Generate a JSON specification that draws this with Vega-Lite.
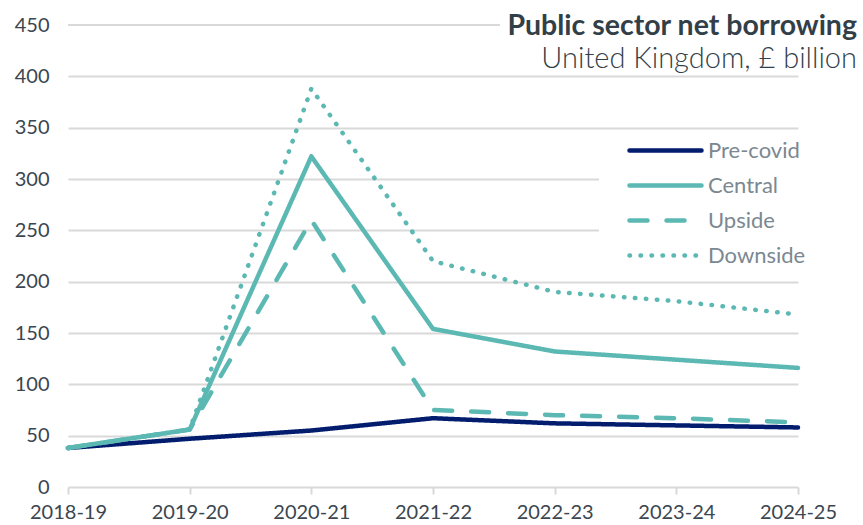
{
  "$schema": "https://vega.github.io/schema/vega-lite/v6.json",
  "width": 730,
  "height": 462,
  "autosize": "none",
  "padding": {"left": 68, "top": 25, "right": 65, "bottom": 38},
  "background": "white",
  "config": {
    "view": {"stroke": null},
    "font": "Lato",
    "axis": {"labelFont": "Lato", "labelColor": "#3b4650", "labelFontSize": 20, "title": null}
  },
  "title": {
    "text": "Public sector net borrowing",
    "subtitle": "United Kingdom, £ billion",
    "anchor": "end",
    "frame": "group",
    "orient": "top",
    "offset": -59,
    "dx": 59,
    "font": "Lato",
    "fontSize": 28.5,
    "fontWeight": "bold",
    "color": "#333f48",
    "subtitleFont": "Lato",
    "subtitleFontSize": 29,
    "subtitleFontWeight": 300,
    "subtitleColor": "#333f48",
    "subtitlePadding": 5
  },
  "datasets": {
    "psnb": [
      {"year": "2018-19", "series": "Pre-covid", "value": 38},
      {"year": "2019-20", "series": "Pre-covid", "value": 47},
      {"year": "2020-21", "series": "Pre-covid", "value": 55},
      {"year": "2021-22", "series": "Pre-covid", "value": 67},
      {"year": "2022-23", "series": "Pre-covid", "value": 62},
      {"year": "2023-24", "series": "Pre-covid", "value": 60},
      {"year": "2024-25", "series": "Pre-covid", "value": 58},
      {"year": "2018-19", "series": "Central", "value": 38},
      {"year": "2019-20", "series": "Central", "value": 56},
      {"year": "2020-21", "series": "Central", "value": 322},
      {"year": "2021-22", "series": "Central", "value": 154},
      {"year": "2022-23", "series": "Central", "value": 132},
      {"year": "2023-24", "series": "Central", "value": 124},
      {"year": "2024-25", "series": "Central", "value": 116},
      {"year": "2018-19", "series": "Upside", "value": 38},
      {"year": "2019-20", "series": "Upside", "value": 56},
      {"year": "2020-21", "series": "Upside", "value": 260},
      {"year": "2021-22", "series": "Upside", "value": 75},
      {"year": "2022-23", "series": "Upside", "value": 70},
      {"year": "2023-24", "series": "Upside", "value": 67},
      {"year": "2024-25", "series": "Upside", "value": 63},
      {"year": "2018-19", "series": "Downside", "value": 38},
      {"year": "2019-20", "series": "Downside", "value": 56},
      {"year": "2020-21", "series": "Downside", "value": 388},
      {"year": "2021-22", "series": "Downside", "value": 220},
      {"year": "2022-23", "series": "Downside", "value": 190},
      {"year": "2023-24", "series": "Downside", "value": 181},
      {"year": "2024-25", "series": "Downside", "value": 168}
    ],
    "topgrid": [
      {"from": "2018-19", "to": "2021-22", "level": 450}
    ]
  },
  "layer": [
    {
      "data": {"name": "topgrid"},
      "mark": {"type": "rule", "color": "#d9d9d9", "strokeWidth": 2, "x2Offset": 67},
      "encoding": {
        "x": {"field": "from", "type": "ordinal",
              "scale": {"type": "point", "padding": 0, "domain": ["2018-19","2019-20","2020-21","2021-22","2022-23","2023-24","2024-25"]},
              "axis": {
                "labelAngle": 0, "labelAlign": "center", "labelBaseline": "top", "domain": false, "grid": false,
                "ticks": true, "tickColor": "#d9d9d9", "tickWidth": 2, "tickSize": 7,
                "labelPadding": 8, "labelFlush": false, "labelOverlap": false
              }},
        "x2": {"field": "to"},
        "y": {"field": "level", "type": "quantitative", "scale": {"domain": [0, 450], "nice": false}}
      }
    },
    {
      "data": {"name": "psnb"},
      "mark": {"type": "line", "strokeWidth": 4.5, "strokeCap": "round", "strokeJoin": "round"},
      "encoding": {
        "x": {
          "field": "year", "type": "ordinal",
          "scale": {"type": "point", "padding": 0, "domain": ["2018-19","2019-20","2020-21","2021-22","2022-23","2023-24","2024-25"]},
          "axis": {
            "labelAngle": 0, "labelAlign": "center", "labelBaseline": "top", "domain": false, "grid": false,
            "ticks": true, "tickColor": "#d9d9d9", "tickWidth": 2, "tickSize": 7,
            "labelPadding": 8, "labelFlush": false, "labelOverlap": false
          }
        },
        "y": {
          "field": "value", "type": "quantitative",
          "scale": {"domain": [0, 450], "nice": false},
          "axis": {
            "values": [0, 50, 100, 150, 200, 250, 300, 350, 400, 450],
            "domain": false, "ticks": false, "labelPadding": 19,
            "grid": true, "gridColor": "#d9d9d9", "gridWidth": 2,
            "gridOpacity": {"condition": {"test": "datum.value >= 450", "value": 0}, "value": 1}
          }
        },
        "color": {
          "field": "series", "type": "nominal",
          "scale": {"domain": ["Pre-covid", "Central", "Upside", "Downside"],
                    "range": ["#021c6e", "#5bb8b2", "#5bb8b2", "#5bb8b2"]},
          "legend": {
            "title": null, "orient": "none", "legendX": 531, "legendY": 106,
            "fillColor": "white", "padding": 8, "symbolOffset": 20,
            "symbolType": "M-1,0L7,0", "symbolSize": 324, "symbolStrokeWidth": 4.5,
            "labelFont": "Lato", "labelFontSize": 22, "labelColor": "#7b8891",
            "labelOffset": 58, "rowPadding": 12, "labelLimit": 300,
            "encode": {"symbols": {"update": {"strokeCap": {"value": "round"}}}}
          }
        },
        "strokeDash": {
          "field": "series", "type": "nominal",
          "scale": {"domain": ["Pre-covid", "Central", "Upside", "Downside"],
                    "range": [[1, 0], [1, 0], [18, 19], [0.5, 10.5]]},
          "legend": {"title": null}
        },
        "order": {"field": "series"}
      }
    }
  ]
}
